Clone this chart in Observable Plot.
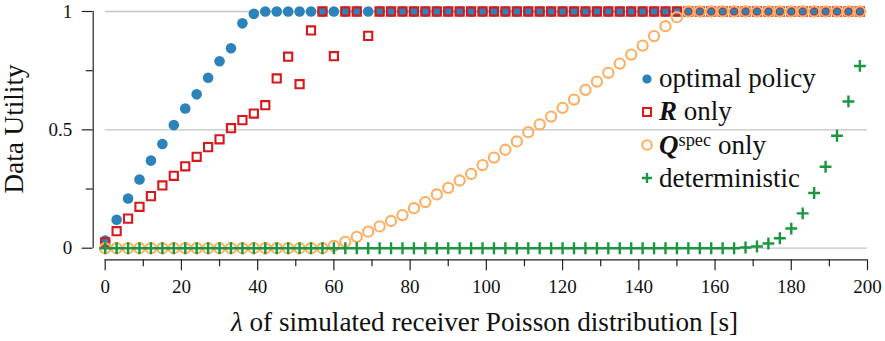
<!DOCTYPE html>
<html>
<head>
<meta charset="utf-8">
<script src="https://cdn.jsdelivr.net/npm/d3@7"></script>
<script src="https://cdn.jsdelivr.net/npm/@observablehq/plot@0.6"></script>
<style>
  html, body { margin: 0; padding: 0; background: #fff; }
  #wrap { position: relative; width: 885px; height: 341px; font-family: "Liberation Serif", "Times New Roman", serif; color: #111; }
  #wrap > svg { position: absolute; left: 0; top: 0; }
  #wrap > svg text { font-family: "Liberation Serif", "Times New Roman", serif; }
  .xlabel { position: absolute; left: 484.5px; top: 322px; transform: translate(-50%, -50%); font-size: 27.2px; white-space: nowrap; }
  .ylabel { position: absolute; left: 14px; top: 129px; transform: translate(-50%, -50%) rotate(-90deg); font-size: 27.2px; white-space: nowrap; }
  .leg { position: absolute; left: 640px; height: 32px; display: flex; align-items: center; font-size: 27px; white-space: nowrap; }
  .leg svg { display: block; margin-right: 5px; }
  sup { font-size: 0.68em; vertical-align: 0.45em; line-height: 0; font-weight: normal; font-style: normal; }
</style>
</head>
<body>
<div id="wrap"></div>
<script>
// λ values of the simulated receiver Poisson distribution [s]
const lambda = [0,3,6,9,12,15,18,21,24,27,30,33,36,39,42,45,48,51,54,57,60,63,66,69,72,75,78,81,84,87,90,93,96,99,102,105,108,111,114,117,120,123,126,129,132,135,138,141,144,147,150,153,156,159,162,165,168,171,174,177,180,183,186,189,192,195,198];

const optimalPolicy = [0.032,0.12,0.21,0.29,0.37,0.44,0.52,0.59,0.65,0.72,0.79,0.845,0.95,0.99,
  1,1,1,1,1,1,1,1,1,1,1,1,1,1,1,1,1,1,1,1,1,1,1,1,1,1,1,1,1,1,1,1,1,1,1,1,1,1,1,1,1,1,1,1,1,1,1,1,1,1,1,1,1];

const rOnly = [0.025,0.072,0.125,0.175,0.22,0.265,0.306,0.346,0.386,0.427,0.46,0.507,0.541,0.569,0.604,0.717,0.809,0.693,0.92,1,0.811,1,1,0.897,
  1,1,1,1,1,1,1,1,1,1,1,1,1,1,1,1,1,1,1,1,1,1,1,1,1,1,1,1,1,1,1,1,1,1,1,1,1,1,1,1,1,1,1];

const qSpecOnly = [0,0,0,0,0,0,0,0,0,0,0,0,0,0,0,0,0,0,0,0,
  0.01,0.027,0.048,0.07,0.092,0.115,0.14,0.169,0.195,0.227,0.255,0.286,0.314,0.351,0.383,0.416,0.451,0.49,0.523,0.556,0.593,0.628,0.669,0.704,0.741,0.78,0.818,0.856,0.896,0.938,0.976,
  1,1,1,1,1,1,1,1,1,1,1,1,1,1,1,1];

const deterministic = [0,0,0,0,0,0,0,0,0,0,0,0,0,0,0,0,0,0,0,0,0,0,0,0,0,0,0,0,0,0,0,0,0,0,0,0,0,0,0,0,0,0,0,0,0,0,0,0,0,0,0,0,0,0,0,0,
  0.003,0.007,0.02,0.042,0.083,0.147,0.233,0.344,0.475,0.62,0.77];

const xMajorTicks = [0,20,40,60,80,100,120,140,160,180,200];
const xMinorTicks = [10,30,50,70,90,110,130,150,170,190];
const yMajorTicks = [0,0.5,1];
const yTickLabels = ["0","0.5","1"];
const yMinorTicks = [0.25,0.75];

const colors = {opt: "#2b83ba", r: "#d7191c", q: "#fdae61", det: "#1a9641"};
const legendLabels = ["optimal policy", "<b><i>R</i></b> only", "<b><i>Q</i></b><sup>spec</sup> only", "deterministic"];

const rows = (ys) => lambda.map((x, i) => ({x, y: ys[i]}));

const axisColor = "#222";
const plot = Plot.plot({
  width: 885,
  height: 341,
  marginLeft: 104.7,
  marginRight: 18,
  marginTop: 11,
  marginBottom: 93.3,
  x: {domain: [0, 200]},
  y: {domain: [0, 1]},
  style: {fontFamily: "'Liberation Serif', serif", fontSize: "19px", color: "#111", background: "transparent", overflow: "visible"},
  marks: [
    Plot.gridY(yMajorTicks, {stroke: "#c4c4c4", strokeOpacity: 1, strokeWidth: 1.3}),
    Plot.ruleY([0], {dy: 11.6, stroke: axisColor, strokeWidth: 1.2}),
    Plot.ruleX([0], {dx: -12, stroke: axisColor, strokeWidth: 1.2}),
    Plot.axisX(xMajorTicks, {anchor: "bottom", dy: 11.6, tickSize: 11, tickPadding: 9, stroke: axisColor, strokeWidth: 1.2, label: null, tickFormat: d => String(d)}),
    Plot.axisX(xMinorTicks, {anchor: "bottom", dy: 11.6, tickSize: 7, stroke: axisColor, strokeWidth: 1.2, label: null, tickFormat: () => ""}),
    Plot.axisY(yMajorTicks, {anchor: "left", dx: -12, tickSize: 11, tickPadding: 10, stroke: axisColor, strokeWidth: 1.2, label: null, tickFormat: (d) => yTickLabels[yMajorTicks.indexOf(d)]}),
    Plot.axisY(yMinorTicks, {anchor: "left", dx: -12, tickSize: 7, stroke: axisColor, strokeWidth: 1.2, label: null, tickFormat: () => ""}),
    Plot.dot(rows(optimalPolicy), {x: "x", y: "y", r: 5.3, fill: colors.opt, stroke: "none"}),
    Plot.dot(rows(rOnly), {x: "x", y: "y", symbol: "square", r: 4.6, fill: "none", stroke: colors.r, strokeWidth: 2.1}),
    Plot.dot(rows(qSpecOnly), {x: "x", y: "y", r: 5.1, fill: "none", stroke: colors.q, strokeWidth: 2.1}),
    Plot.dot(rows(deterministic), {x: "x", y: "y", symbol: "plus", r: 3.9, stroke: colors.det, strokeWidth: 2.4})
  ]
});

const wrap = document.getElementById("wrap");
wrap.appendChild(plot);

const xl = document.createElement("div");
xl.className = "xlabel";
xl.innerHTML = "<i>λ</i> of simulated receiver Poisson distribution [s]";
wrap.appendChild(xl);

const yl = document.createElement("div");
yl.className = "ylabel";
yl.textContent = "Data Utility";
wrap.appendChild(yl);

const legendCenters = [78.5, 111.5, 145, 178];
const symbols = [
  `<circle cx="7" cy="7" r="4.6" fill="${colors.opt}"/>`,
  `<rect x="3" y="3" width="8" height="8" fill="#fff" stroke="${colors.r}" stroke-width="2"/>`,
  `<circle cx="7" cy="7" r="4.8" fill="none" stroke="${colors.q}" stroke-width="2"/>`,
  `<path d="M2,7H12M7,2V12" stroke="${colors.det}" stroke-width="2.4"/>`
];
legendLabels.forEach((lab, i) => {
  const d = document.createElement("div");
  d.className = "leg";
  d.style.top = (legendCenters[i] - 16) + "px";
  d.innerHTML = `<svg width="14" height="14" viewBox="0 0 14 14">${symbols[i]}</svg><span>${lab}</span>`;
  wrap.appendChild(d);
});
</script>
</body>
</html>
